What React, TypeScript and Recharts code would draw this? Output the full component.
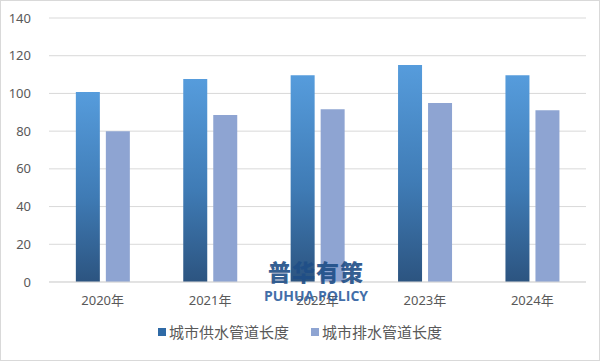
import React from "react";
import { BarChart, Bar, XAxis, YAxis, CartesianGrid, Legend } from "recharts";

const categories = ["2020年", "2021年", "2022年", "2023年", "2024年"];
const supplyValues = [100.7, 107.6, 109.7, 115.1, 109.7];
const drainValues = [79.9, 88.5, 91.6, 94.9, 91.1];
const yTicks = [0, 20, 40, 60, 80, 100, 120, 140];
const seriesNames = ["城市供水管道长度", "城市排水管道长度"];
const legendColors = ["#2f6aa6", "#8ea4d2"];

const data = categories.map((c, i) => ({
  name: c,
  supply: supplyValues[i],
  drain: drainValues[i],
}));

const FONT = '"Noto Sans", "Noto Sans CJK SC", sans-serif';

const LegendContent = () => (
  <div style={{ display: "flex", justifyContent: "center", alignItems: "center", gap: 22, fontFamily: FONT }}>
    {seriesNames.map((n, i) => (
      <div key={n} style={{ display: "flex", alignItems: "center" }}>
        <span style={{ display: "inline-block", width: 8, height: 8, background: legendColors[i], marginRight: 3 }} />
        <span style={{ color: "#595959", fontSize: 15 }}>{n}</span>
      </div>
    ))}
  </div>
);

export default function App() {
  return (
    <div
      style={{
        position: "fixed",
        left: 0,
        top: 0,
        width: 600,
        height: 361,
        background: "#fff",
        boxSizing: "border-box",
        border: "1px solid #d9d9d9",
        fontFamily: FONT,
      }}
    >
      <BarChart
        width={598}
        height={359}
        data={data}
        margin={{ top: 17, right: 13, left: 7, bottom: 27 }}
        barCategoryGap="25%"
        barGap={6}
      >
        <defs>
          <linearGradient id="supplyGrad" x1="0" y1="0" x2="0" y2="1">
            <stop offset="0%" stopColor="#569cdc" />
            <stop offset="55%" stopColor="#3f7bb5" />
            <stop offset="100%" stopColor="#2c5480" />
          </linearGradient>
        </defs>
        <CartesianGrid vertical={false} stroke="#d9d9d9" />
        <XAxis
          dataKey="name"
          axisLine={{ stroke: "#d9d9d9" }}
          tickLine={false}
          height={30}
          tick={{ fill: "#595959", fontSize: 13, fontFamily: FONT }}
          tickMargin={8}
        />
        <YAxis
          domain={[0, 140]}
          ticks={yTicks}
          axisLine={false}
          tickLine={false}
          width={41}
          tick={{ fill: "#595959", fontSize: 13, fontFamily: FONT }}
          tickMargin={12}
        />
        <Legend
          verticalAlign="bottom"
          content={<LegendContent />}
          wrapperStyle={{ top: 320, left: 0, width: 598 }}
        />
        <Bar dataKey="supply" name={seriesNames[0]} fill="url(#supplyGrad)" isAnimationActive={false} />
        <Bar dataKey="drain" name={seriesNames[1]} fill="#8ea4d2" isAnimationActive={false} />
      </BarChart>
      <div
        style={{
          position: "absolute",
          left: 255,
          top: 259,
          width: 120,
          textAlign: "center",
          color: "#1f4e87",
          opacity: 0.9,
          pointerEvents: "none",
          lineHeight: 1,
          whiteSpace: "nowrap",
        }}
      >
        <div style={{ fontSize: 23, fontWeight: 900, letterSpacing: 1, fontFamily: '"Noto Sans CJK SC", sans-serif' }}>普华有策</div>
        <div style={{ fontSize: 14, fontWeight: 700, marginTop: 6, color: "#2f5fa0", fontFamily: '"Open Sans", sans-serif' }}>PUHUA POLICY</div>
      </div>
    </div>
  );
}
